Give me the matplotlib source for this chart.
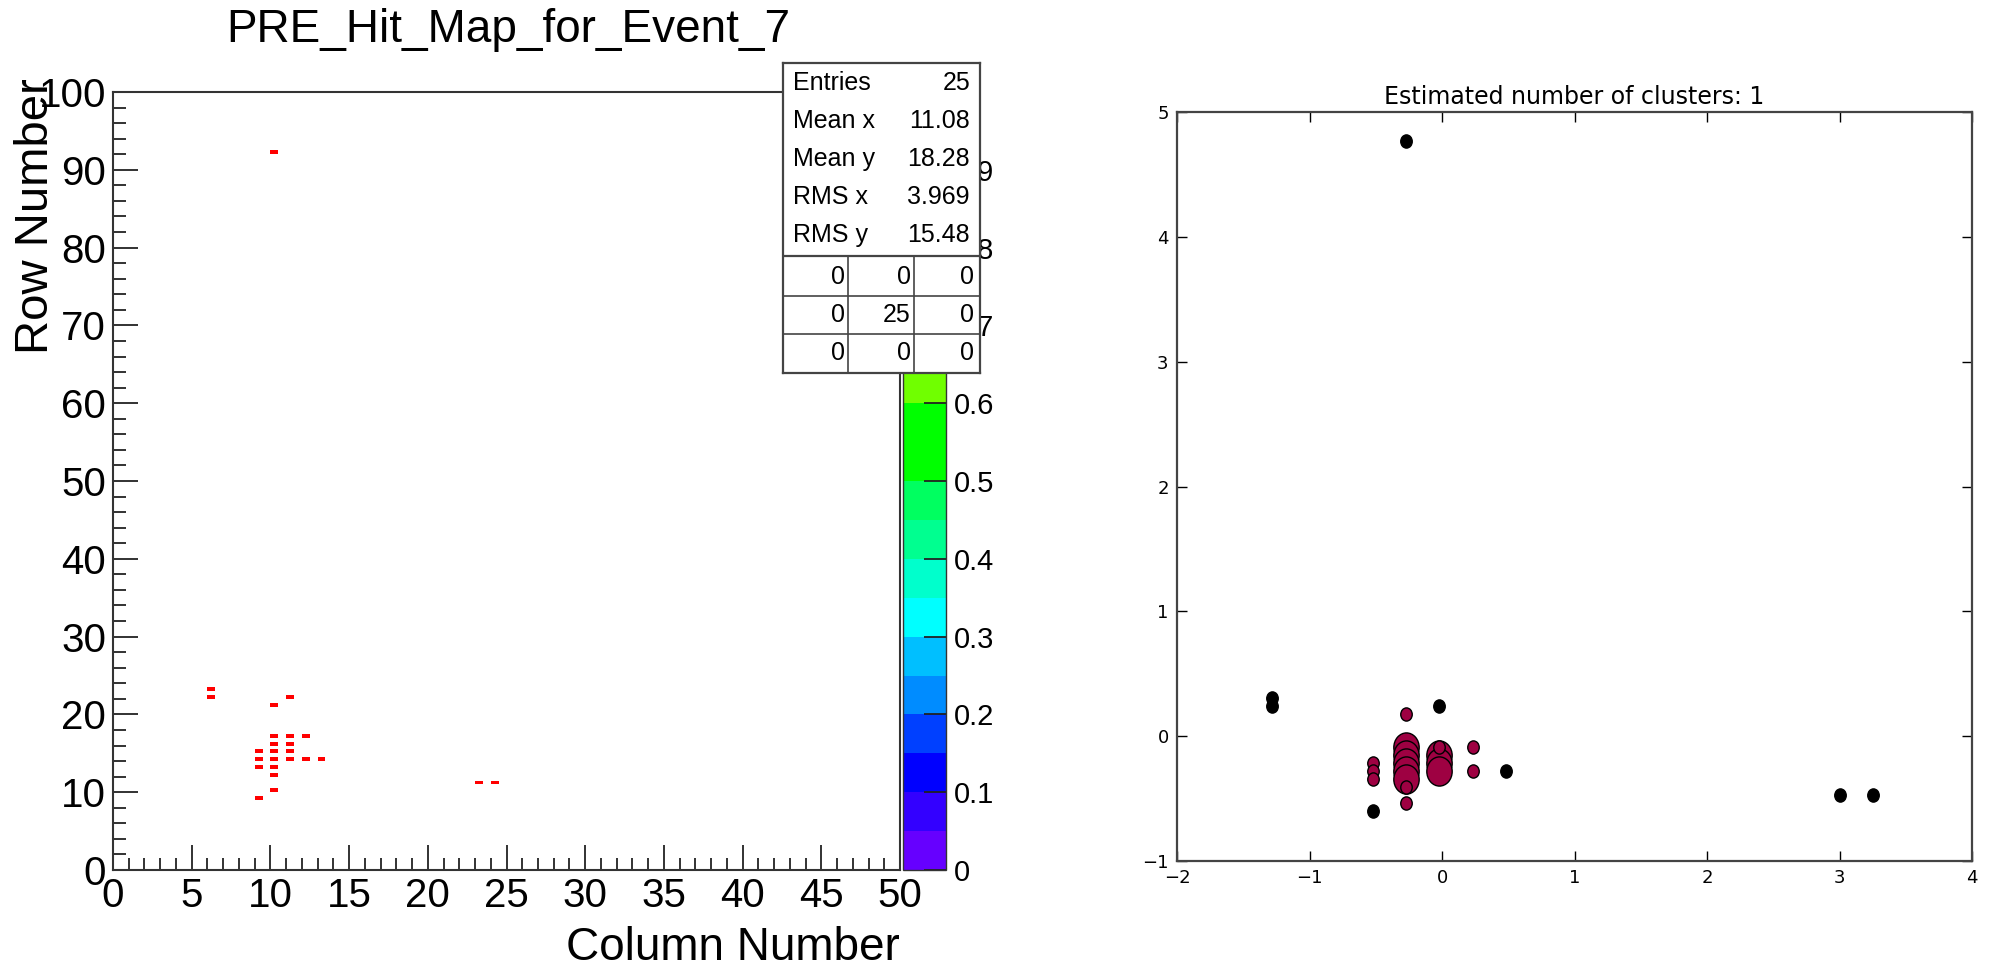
import numpy as np
import matplotlib
matplotlib.use('Agg')
import matplotlib.pyplot as plt
from matplotlib.colors import ListedColormap, Normalize
from matplotlib.cm import ScalarMappable
from matplotlib.ticker import MultipleLocator, FuncFormatter
from matplotlib.path import Path
from matplotlib.transforms import Affine2D

# ---- data: hits of event 7 (column, row), one entry each ----
hit_cols = [6, 6, 9, 9, 9, 9, 10, 10, 10, 10, 10, 10, 10, 10, 10,
            11, 11, 11, 11, 11, 12, 12, 13, 23, 24]
hit_rows = [23, 22, 15, 14, 13, 9, 92, 21, 17, 16, 15, 14, 13, 12, 10,
            22, 17, 16, 15, 14, 17, 14, 14, 11, 11]
hit_counts = [1] * 25

# under/overflow grid of the stats box
overflow_grid = [[0, 0, 0],
                 [0, 25, 0],
                 [0, 0, 0]]

# ROOT-like rainbow palette, 20 bands from 0 to 1
palette = ['#6600ff', '#3300ff', '#0000ff', '#0040ff', '#008cff',
           '#00bfff', '#00ffff', '#00ffcc', '#00ff90', '#00ff60',
           '#00ff00', '#00ff00', '#70ff00', '#a0ff00', '#d0ff00',
           '#ffff00', '#ffcc00', '#ff9900', '#ff6600', '#ff0000']

# ---- data: standardized hits after clustering (right panel) ----
core_x = [-0.272, -0.272, -0.272, -0.272, -0.272, -0.020, -0.020, -0.020]
core_y = [-0.083, -0.147, -0.212, -0.276, -0.341, -0.147, -0.212, -0.276]
border_x = [-0.524, -0.524, -0.524, -0.272, -0.272, -0.272, -0.020, 0.232, 0.232]
border_y = [-0.212, -0.276, -0.341, 0.176, -0.406, -0.535, -0.083, -0.083, -0.276]
noise_x = [-1.280, -1.280, -0.524, -0.272, -0.020, 0.484, 3.003, 3.255]
noise_y = [0.305, 0.241, -0.600, 4.764, 0.241, -0.276, -0.470, -0.470]
n_clusters = 1
cluster_color = '#9e0142'

W, H = 1992, 968
fig = plt.figure(figsize=(W / 100, H / 100), dpi=100)
rootfont = 'Liberation Sans'

cmap = ListedColormap(palette)
norm = Normalize(0, 1)

# ---- left: hit map ----
ax = fig.add_axes([113 / W, 1 - 870 / H, 787 / W, 778 / H])
ax.bar(hit_cols, [0.5] * len(hit_cols), width=0.5, bottom=hit_rows, align='edge',
       color=cmap(norm(hit_counts)), linewidth=0)
ax.set_xlim(0, 50)
ax.set_ylim(0, 100)
ax.xaxis.set_major_locator(MultipleLocator(5))
ax.xaxis.set_minor_locator(MultipleLocator(1))
ax.yaxis.set_major_locator(MultipleLocator(10))
ax.yaxis.set_minor_locator(MultipleLocator(2))
ax.tick_params(which='both', direction='in', top=False, right=False, width=1.3, color='#222222')
ax.tick_params(which='major', length=18, labelsize=29, pad=5)
ax.tick_params(which='minor', length=9)
for lab in ax.get_xticklabels() + ax.get_yticklabels():
    lab.set_fontfamily(rootfont)
for sp in ax.spines.values():
    sp.set_color('#333333')
    sp.set_linewidth(1.5)

fig.text(508 / W, 1 - 30 / H, 'PRE_Hit_Map_for_Event_7', family=rootfont, fontsize=33,
         ha='center', va='center')
fig.text(900 / W, 1 - 948 / H, 'Column Number', family=rootfont, fontsize=33,
         ha='right', va='center')
fig.text(36 / W, 1 - 78 / H, 'Row Number', family=rootfont, fontsize=34,
         rotation=90, ha='center', va='top')

# colorbar
cax = fig.add_axes([903 / W, 1 - 870 / H, 43 / W, 778 / H])
cb = fig.colorbar(ScalarMappable(norm=norm, cmap=cmap), cax=cax)
cb.set_ticks(np.linspace(0, 1, 11))
cb.ax.yaxis.set_major_formatter(FuncFormatter(lambda v, p: '%g' % round(v, 1)))
cb.ax.tick_params(direction='in', length=16, width=1.3, labelsize=21, pad=6, color='#222222')
for lab in cb.ax.get_yticklabels():
    lab.set_fontfamily(rootfont)
cb.outline.set_linewidth(1.0)
cb.outline.set_edgecolor('#333333')

# stats box
sax = fig.add_axes([783 / W, 1 - 373 / H, 197 / W, 310 / H], zorder=10)
sax.set_xlim(783, 980)
sax.set_ylim(373, 63)
sax.set_xticks([])
sax.set_yticks([])
sax.set_facecolor('white')
for sp in sax.spines.values():
    sp.set_color('#444444')
    sp.set_linewidth(1.6)

xs = np.array(hit_cols, dtype=float)
ys = np.array(hit_rows, dtype=float)
wts = np.array(hit_counts, dtype=float)
mx = np.average(xs, weights=wts)
my = np.average(ys, weights=wts)
rx = np.sqrt(np.average((xs - mx) ** 2, weights=wts))
ry = np.sqrt(np.average((ys - my) ** 2, weights=wts))
stat_labels = ['Entries', 'Mean x', 'Mean y', 'RMS x', 'RMS y']
stat_values = ['%d' % wts.sum(), '%.4g' % mx, '%.4g' % my, '%.4g' % rx, '%.4g' % ry]
for i, (lab, val) in enumerate(zip(stat_labels, stat_values)):
    yy = 83 + i * 38
    sax.text(793, yy, lab, family=rootfont, fontsize=18, ha='left', va='center')
    sax.text(970, yy, val, family=rootfont, fontsize=18, ha='right', va='center')
sax.axhline(256, color='#444444', lw=1.6)
sax.axhline(296, color='#444444', lw=1.2)
sax.axhline(334, color='#444444', lw=1.2)
sax.plot([848, 848], [256, 373], color='#444444', lw=1.2)
sax.plot([914, 914], [256, 373], color='#444444', lw=1.2)
col_right = [845, 911, 974]
for r, row in enumerate(overflow_grid):
    for c, v in enumerate(row):
        sax.text(col_right[c], 277 + r * 38, str(v), family=rootfont, fontsize=18,
                 ha='right', va='center')

# ---- right: clustering result ----
# the source image was stretched vertically, so markers are slightly oval
oval = Path.unit_circle().transformed(Affine2D().scale(1.0, 1.15))
ax2 = fig.add_axes([1177 / W, 1 - 861 / H, 795 / W, 749 / H])
ax2.plot(core_x, core_y, linestyle='none', marker=oval, markerfacecolor=cluster_color,
         markeredgecolor='k', markersize=21)
ax2.plot(border_x, border_y, linestyle='none', marker=oval, markerfacecolor=cluster_color,
         markeredgecolor='k', markersize=9.5)
ax2.plot(noise_x, noise_y, linestyle='none', marker=oval, markerfacecolor='k',
         markeredgecolor='k', markersize=9.5)
ax2.set_xlim(-2, 4)
ax2.set_ylim(-1, 5)
ax2.xaxis.set_major_locator(MultipleLocator(1))
ax2.yaxis.set_major_locator(MultipleLocator(1))
ax2.tick_params(direction='in', top=True, right=True, length=7, width=1, labelsize=13, pad=6)
for sp in ax2.spines.values():
    sp.set_color('#444444')
    sp.set_linewidth(1.6)
ax2.set_title('Estimated number of clusters: %d' % n_clusters, fontsize=17, pad=6)

fig.savefig('out.png', dpi=100, facecolor='white')
